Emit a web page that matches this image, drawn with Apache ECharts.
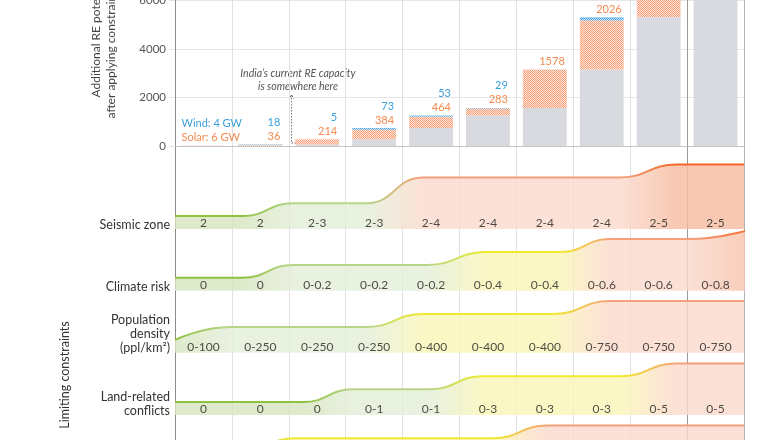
<!DOCTYPE html>
<html><head><meta charset="utf-8">
<script src="https://cdn.jsdelivr.net/npm/echarts@6/dist/echarts.min.js"></script>
<style>html,body{margin:0;padding:0;background:#fff}#c{width:770px;height:440px}</style>
</head><body><div id="c"></div>
<script>
// ---------- data ----------
const categories = ['C1','C2','C3','C4','C5','C6','C7','C8','C9','C10'];
const solarGW = [6, 36, 214, 384, 464, 283, 1578, 2026, 2500, 2000];
const windGW  = [4, 18, 5, 73, 53, 29, 0, 130, 150, 150];
const yTickStep = 2000;
const yAxisMax = 9000;

const seismicLabels = ['2','2','2-3','2-3','2-4','2-4','2-4','2-4','2-5','2-5'];
const seismicLine = [[0,1],[1.18,1],[2.08,2],[3.37,2],[4.36,4],[7.82,4],[8.82,5],[10,5]];
const climateLabels = ['0','0','0-0.2','0-0.2','0-0.2','0-0.4','0-0.4','0-0.6','0-0.6','0-0.8'];
const climateLine = [[0,1],[1.18,1],[2.08,2],[4.43,2],[5.48,3],[6.77,3],[7.64,4],[9.0,4],[10.3,5]];
const popLabels = ['0-100','0-250','0-250','0-250','0-400','0-400','0-400','0-750','0-750','0-750'];
const popLine = [[0,1],[0.97,2],[3.37,2],[4.36,3],[6.64,3],[7.64,4],[10,4]];
const landLabels = ['0','0','0','0-1','0-1','0-3','0-3','0-3','0-5','0-5'];
const landLine = [[0,1],[2.25,1],[3.13,2],[4.48,2],[5.41,3],[7.82,3],[8.82,4],[10,4]];
const row5Line = [[0,2],[1.2,2],[2.1,3],[5.59,3],[6.54,4],[10,4]];
const rowNames = ['Seismic zone','Climate risk','Population\ndensity\n(ppl/km\u00B2)','Land-related\nconflicts'];

// ---------- style / layout ----------
const rowBottoms = [229, 290.7, 352.7, 415, 477];
const levelPx = 12.9, rowLevels = 6;
const lineColors = {1:'#8dc13f', 2:'#b7d68a', 3:'#f0e92c', 4:'#f5a07c', 5:'#f26522'};
const fillTargets = {1:'#dfeacb', 2:'#e9f1df', 3:'#fbf8c6', 4:'#fce1d6', 5:'#f8c8b2'};
function alphaize(hex, a){
  const r=parseInt(hex.substr(1,2),16), g=parseInt(hex.substr(3,2),16), b=parseInt(hex.substr(5,2),16);
  const f = c => Math.max(0, Math.round(255 - (255 - c)/a));
  return 'rgba('+f(r)+','+f(g)+','+f(b)+','+a+')';
}
const fillColors = {};
for (const k in fillTargets) fillColors[k] = alphaize(fillTargets[k], 0.82);

function grad(points, palette){
  const x0 = points[0][0], x1 = points[points.length-1][0];
  return {type:'linear', x:0, y:0, x2:1, y2:0,
    colorStops: points.map(p => ({offset:(p[0]-x0)/(x1-x0), color: palette[p[1]]}))};
}
function makePattern(a, b){
  const c = document.createElement('canvas'); c.width = 2; c.height = 2;
  const g = c.getContext('2d');
  g.fillStyle = b; g.fillRect(0,0,2,2);
  g.fillStyle = a; g.fillRect(0,0,1,1); g.fillRect(1,1,1,1);
  return {image: c, repeat: 'repeat'};
}

const baseGW = []; let acc = 0;
for (let i = 0; i < categories.length; i++){ baseGW.push(acc); acc += solarGW[i] + windGW[i]; }

const FONT = 'Lato, "Open Sans", sans-serif';
const chart = echarts.init(document.getElementById('c'), null, {renderer:'canvas'});

const grids = [
  {left:175, right:26, top:146 - yAxisMax/yTickStep*48.55, bottom:294, outerBoundsMode:'none', containLabel:false},
  {left:175, right:26, top:0, bottom:0, outerBoundsMode:'none', containLabel:false}
];
const xAxes = [
  {type:'category', gridIndex:0, data:categories, axisLine:{lineStyle:{color:'#c4c4c4'}}, axisTick:{show:false}, axisLabel:{show:false}},
  {type:'value', gridIndex:1, min:0, max:10, interval:1, axisLine:{show:false}, axisTick:{show:false}, axisLabel:{show:false},
   splitLine:{show:true, showMinLine:true, showMaxLine:true, lineStyle:{width:1, color:['#8c8c8c','#e0e0e0','#e0e0e0','#e0e0e0','#e0e0e0','#e0e0e0','#e0e0e0','#e0e0e0','#e0e0e0','#9a9a9a','#b3b3b3']}}}
];
const yAxes = [
  {type:'value', gridIndex:0, min:0, max:yAxisMax, interval:yTickStep,
   axisLine:{show:false}, axisTick:{show:true, length:6, lineStyle:{color:'#e2e2e2'}},
   axisLabel:{color:'#555', fontSize:11.5, fontFamily:FONT, margin:9, formatter: v => String(v)},
   splitLine:{lineStyle:{color:'#e6e6e6'}},
   name:'Additional RE potential\nafter applying constraints (GW)', nameLocation:'middle', nameGap:56,
   nameTextStyle:{color:'#444', fontSize:12, fontFamily:FONT, lineHeight:15}},
  {type:'value', gridIndex:1, min:0, max:1, show:false}
];
const series = [
  {type:'bar', name:'base', xAxisIndex:0, yAxisIndex:0, stack:'t', barWidth:'77%', data:baseGW,
   itemStyle:{color:'#d9dadf'}, silent:true},
  {type:'bar', name:'solar', xAxisIndex:0, yAxisIndex:0, stack:'t', data:solarGW,
   itemStyle:{color:makePattern('#f5a07a','#fde4d8')}},
  {type:'bar', name:'wind', xAxisIndex:0, yAxisIndex:0, stack:'t',
   data: windGW.map((w,i) => i === 0
      ? {value:w, label:{position:[0,0], align:'left', offset:[0,-1]}}
      : {value:w}),
   itemStyle:{color:makePattern('#3f9fdc','#cfe7f7')},
   label:{show:true, position:['100%',0], align:'right', verticalAlign:'bottom', offset:[-2,-1],
     fontFamily:FONT,
     formatter: p => {
       const i = p.dataIndex;
       if (i === 0) return '{w|Wind: ' + windGW[i] + ' GW}\n{s|Solar: ' + solarGW[i] + ' GW}';
       return (windGW[i] > 0 ? '{w|' + windGW[i] + '}\n' : '') + '{s|' + solarGW[i] + '}';
     },
     rich:{w:{color:'#3b9fdb', fontSize:11, lineHeight:14, fontFamily:FONT},
           s:{color:'#f5894f', fontSize:11, lineHeight:14, fontFamily:FONT}}}}
];

const rowLines = [seismicLine, climateLine, popLine, landLine, row5Line];
const rowLabels = [seismicLabels, climateLabels, popLabels, landLabels, null];
rowLines.forEach((pts, r) => {
  const gi = grids.length;
  grids.push({left:175, right:26, top:rowBottoms[r] - rowLevels*levelPx, height:rowLevels*levelPx, outerBoundsMode:'none', containLabel:false});
  xAxes.push({type:'value', gridIndex:gi, min:0, max:10, show:false});
  yAxes.push({type:'value', gridIndex:gi, min:0, max:rowLevels, show:false});
  series.push({type:'line', xAxisIndex:gi, yAxisIndex:gi, data:pts, smooth:0.5, smoothMonotone:'x',
    showSymbol:false, clip:true, silent:true,
    lineStyle:{width:2, color:grad(pts, lineColors)},
    itemStyle:{color:lineColors[pts[0][1]]},
    areaStyle:{opacity:1, color:grad(pts, fillColors)}, z:2});
  if (rowLabels[r]) {
    series.push({type:'scatter', xAxisIndex:gi, yAxisIndex:gi, symbolSize:1, silent:true,
      itemStyle:{color:'rgba(0,0,0,0)'},
      data: rowLabels[r].map((t,i) => ({name:t, value:[i+0.5, 0.44]})),
      label:{show:true, position:'inside', formatter:'{b}', color:'#222', fontSize:12, fontFamily:FONT}, z:4});
  }
});

const graphics = [
  {type:'text', x:298, y:80.5, style:{text:'India\u2019s current RE capacity\nis somewhere here', fill:'#555',
     font:'italic 10.5px ' + FONT, align:'center', verticalAlign:'middle', lineHeight:13}},
  {type:'polyline', shape:{points:[[296,143],[291.5,143],[291.5,95.5]]}, style:{stroke:'#777', lineWidth:1, lineDash:[1.5,1.5], fill:null}},
  {type:'polyline', shape:{points:[[289.3,98.5],[291.5,95],[293.7,98.5]]}, style:{stroke:'#666', lineWidth:1, fill:null}},
  {type:'text', x:65, y:375, rotation:Math.PI/2, style:{text:'Limiting constraints', fill:'#333', font:'12.5px ' + FONT, align:'center', verticalAlign:'middle'}}
];
const nameCenters = [225, 286.5, 334, 404];
rowNames.forEach((n, r) => {
  graphics.push({type:'text', x:170, y:nameCenters[r], style:{text:n, fill:'#333', font:'12.5px ' + FONT,
    align:'right', verticalAlign:'middle', lineHeight:14.3}});
});

chart.setOption({
  animation:false,
  backgroundColor:'#fff',
  textStyle:{fontFamily:FONT},
  grid:grids, xAxis:xAxes, yAxis:yAxes, series:series, graphic:graphics
});
</script></body></html>
